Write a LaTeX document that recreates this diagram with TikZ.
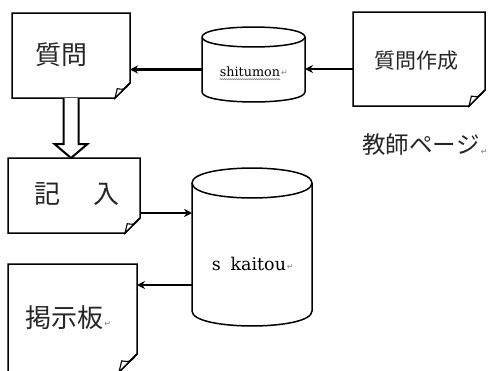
\documentclass[tikz,border=0pt]{standalone}
\usepackage{fontspec}
\setmainfont{DejaVu Serif}
\newfontfamily\jp{Noto Sans CJK JP}
\newfontfamily\retfont{DejaVu Sans}
\usetikzlibrary{arrows.meta,calc,decorations.pathmorphing}
\tikzset{
  boxline/.style={line width=1.5pt, line join=miter},
  foldline/.style={line width=1.1pt, fill=white},
  arr/.style={line width=2.3pt,-{Stealth[length=8pt,width=8pt]}},
  hollowarrow/.style={line width=2pt, line join=miter, fill=white},
  ghost/.style={draw=none, inner sep=0pt, outer sep=0pt},
  jlbl/.style={inner sep=0pt, font=\jp\fontsize{26}{26}\selectfont, text=black!85},
  retm/.style={inner sep=0pt, font=\retfont\fontsize{8}{8}\selectfont, text=gray},
}
\newcommand\docoutline[2]{%
  \draw[boxline] (#1.north west) -- (#1.north east) -- ([yshift=#2pt]#1.south east)
     -- ([xshift=-#2pt]#1.south east) -- (#1.south west) -- cycle;
  \draw[foldline] ([yshift=#2pt]#1.south east)
     .. controls ([xshift=-0.35*#2pt,yshift=0.55*#2pt]#1.south east) .. ([xshift=-0.85*#2pt,yshift=0.62*#2pt]#1.south east)
     -- ([xshift=-#2pt]#1.south east) -- cycle;
}
\newcommand\cyl[2]{% name, ellipse y radius
  \draw[boxline] (#1.north west) -- (#1.south west)
     .. controls ([yshift=-1.33*#2pt]#1.south west) and ([yshift=-1.33*#2pt]#1.south east) .. (#1.south east)
     -- (#1.north east);
  \draw[boxline] (#1.north west)
     .. controls ([yshift=1.33*#2pt]#1.north west) and ([yshift=1.33*#2pt]#1.north east) .. (#1.north east)
     .. controls ([yshift=-1.33*#2pt]#1.north east) and ([yshift=-1.33*#2pt]#1.north west) .. (#1.north west);
}
\begin{document}
\begin{tikzpicture}[x=1pt,y=-1pt]
\useasboundingbox[fill=white] (0,0) rectangle (500,370);

% document boxes
\node[ghost, minimum width=118pt, minimum height=85pt] (q) at (71,55.5) {};
\node[ghost, minimum width=132pt, minimum height=94pt] (qs) at (419,59) {};
\node[ghost, minimum width=132pt, minimum height=75pt] (k) at (74,195.5) {};
\node[ghost, minimum width=129pt, minimum height=108pt] (b) at (72.5,318) {};
\docoutline{q}{15}
\docoutline{qs}{16}
\docoutline{k}{15}
\docoutline{b}{18}

% cylinders
\node[ghost, minimum width=103pt, minimum height=55pt] (c1) at (253.5,64.5) {};
\node[ghost, minimum width=120pt, minimum height=128pt] (c2) at (252,247) {};
\cyl{c1}{10}
\cyl{c2}{15}

% texts
\node[jlbl] (tq) at (61,55) {質問};
\node[jlbl, font=\jp\fontsize{21}{21}\selectfont] (tqs) at (416,61) {質問作成};
\node[jlbl] (tk) at (77,194) {記\hspace{1.3em}入};
\node[jlbl] (tb) at (64,318) {掲示板};
\node[retm, anchor=west] (rb) at ([xshift=1pt,yshift=-6pt]tb.east) {↵};
\node[jlbl, font=\jp\fontsize{23.5}{23.5}\selectfont] (tt) at (421,145) {教師ページ};
\node[retm, anchor=west] (rt) at ([xshift=1pt,yshift=-7pt]tt.east) {↵};
\node[inner sep=0pt, font=\fontsize{12.8}{12.8}\selectfont] (ts) at (250,72) {shitumon};
\node[retm, anchor=west] (rs) at ([xshift=0.5pt,yshift=-1pt]ts.east) {↵};
\draw[gray, line width=0.5pt, decorate, decoration={snake, amplitude=0.6pt, segment length=2pt}]
  ([yshift=-2pt]ts.south west) -- ([yshift=-2pt]ts.south east);
\node[inner sep=0pt, font=\fontsize{17.5}{17.5}\selectfont] (tc) at (249,264) {s\hspace{0.55em}kaitou};
\node[retm, anchor=west] (rc) at ([xshift=0.5pt,yshift=-3pt]tc.east) {↵};

% connectors
\draw[arr] ([yshift=-10pt]qs.west) -- ([yshift=-10pt]qs.west -| c1.east);
\draw[arr] ([yshift=-5pt]c1.west) -- ([yshift=-5pt]c1.west -| q.east);
\draw[arr] ([yshift=-17.5pt]k.east) -- ([yshift=-17.5pt]k.east -| c2.west);
\draw[arr] ([yshift=-38pt]c2.west) -- ([yshift=-38pt]c2.west -| b.east);
\draw[hollowarrow] ([xshift=-7.5pt]q.south)
  -- ([xshift=-7.5pt,yshift=14pt]q.south |- k.north)
  -- ([xshift=-16.5pt,yshift=14pt]q.south |- k.north)
  -- (q.south |- k.north)
  -- ([xshift=16.5pt,yshift=14pt]q.south |- k.north)
  -- ([xshift=7.5pt,yshift=14pt]q.south |- k.north)
  -- ([xshift=7.5pt]q.south);
\end{tikzpicture}
\end{document}
